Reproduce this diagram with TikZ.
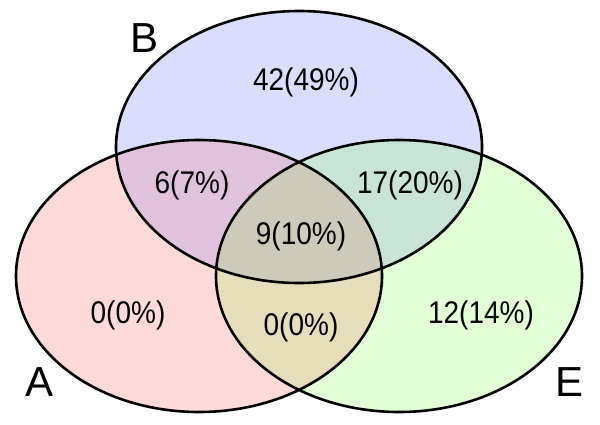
\documentclass[tikz,border=0pt]{standalone}
\usepackage{fontspec}
\setmainfont{Liberation Sans}
\definecolor{cA}{RGB}{255,218,218}
\definecolor{cB}{RGB}{218,222,252}
\definecolor{cE}{RGB}{226,255,214}
\definecolor{cAB}{RGB}{224,194,220}
\definecolor{cBE}{RGB}{200,228,214}
\definecolor{cAE}{RGB}{230,222,186}
\definecolor{cABE}{RGB}{206,202,186}
\begin{document}
\begin{tikzpicture}[x=1pt,y=-1pt,
  num/.style={font=\fontsize{28}{30}\selectfont, inner sep=0pt, yscale=1.12},
  setlabel/.style={font=\fontsize{42}{44}\selectfont, inner sep=0pt},
  outline/.style={line width=2.6pt, black}]
\useasboundingbox (0,0) rectangle (600,424);
\def\ellA{(199,276) ellipse [x radius=183, y radius=136]}
\def\ellB{(299,147) ellipse [x radius=183, y radius=136]}
\def\ellE{(399,276) ellipse [x radius=183, y radius=136]}
% base fills
\fill[cA] \ellA;
\fill[cB] \ellB;
\fill[cE] \ellE;
% pairwise overlaps
\begin{scope}\clip \ellA; \fill[cAB] \ellB; \end{scope}
\begin{scope}\clip \ellB; \fill[cBE] \ellE; \end{scope}
\begin{scope}\clip \ellA; \fill[cAE] \ellE; \end{scope}
\begin{scope}\clip \ellA; \clip \ellB; \fill[cABE] \ellE; \end{scope}
% outlines
\draw[outline] \ellA;
\draw[outline] \ellB;
\draw[outline] \ellE;
% region counts
\node[num] (nB)   at (306,82)  {42(49\%)};
\node[num] (nAB)  at (192,185) {6(7\%)};
\node[num] (nBE)  at (410,185) {17(20\%)};
\node[num] (nABE) at (301,236) {9(10\%)};
\node[num] (nA)   at (128,315) {0(0\%)};
\node[num] (nAE)  at (301,327) {0(0\%)};
\node[num] (nE)   at (481,315) {12(14\%)};
% set labels
\node[setlabel] (lB) at (145,38)  {B};
\node[setlabel] (lA) at (40,382)  {A};
\node[setlabel] (lE) at (570,382) {E};
\end{tikzpicture}
\end{document}
